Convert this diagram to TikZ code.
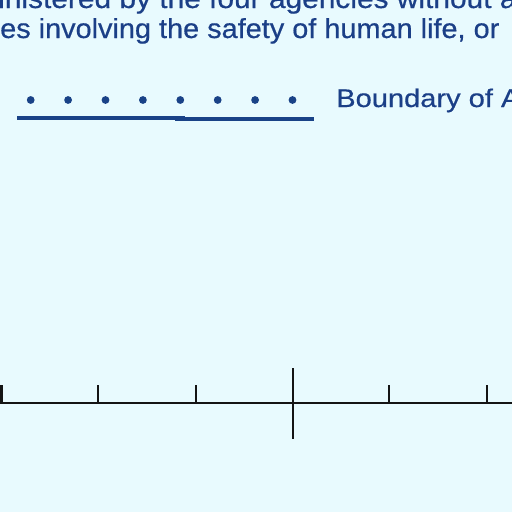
\documentclass[tikz,border=0pt]{standalone}
\usepackage{fontspec}
\setmainfont{Liberation Sans}
\newfontfamily\medfont{Liberation Sans}[FakeBold=0.5]
\definecolor{bgcol}{RGB}{232,250,254}
\definecolor{txtblue}{RGB}{27,63,135}
\definecolor{legblue}{RGB}{25,66,135}
\definecolor{barcol}{RGB}{20,20,20}
\tikzset{
  bodytext/.style={anchor=base west,inner sep=0pt,text=txtblue,font=\medfont\fontsize{27.5}{30}\selectfont,xscale=1.05},
  legtext/.style={anchor=base west,inner sep=0pt,text=txtblue,font=\medfont\fontsize{25.5}{28}\selectfont,xscale=1.14},
  legdot/.style={fill=legblue},
  legline/.style={draw=legblue,line width=4.3pt},
  barline/.style={draw=barcol,line width=1.8pt},
}
\begin{document}
\begin{tikzpicture}[x=1pt,y=-1pt]
\fill[bgcol] (0,0) rectangle (512,512);
\useasboundingbox (0,0) rectangle (512,512);
\node[bodytext,xscale=1.035] (l1) at (-2,8) {inistered by the four agencies without a};
\node[bodytext] (l2) at (0,38) {es involving the safety of human life, or};
\node[legtext] (leg) at (336,107) {Boundary of A};
\foreach \i in {0,...,7} {
  \fill[legdot] (30.7+37.4*\i,100) circle (3.9);
}
\draw[legline] (17,117.8) -- (185,117.8);
\draw[legline] (175,119.2) -- (314,119.2);
\draw[barline] (0,402.7) -- (512,402.7);
\draw[draw=barcol,line width=2.6pt] (1.3,385) -- (1.3,402.7);
\foreach \x in {98.3,196,389.3,486.7} {
  \draw[barline] (\x,385) -- (\x,402.7);
}
\draw[barline] (292.7,368.3) -- (292.7,439.3);
\end{tikzpicture}
\end{document}
